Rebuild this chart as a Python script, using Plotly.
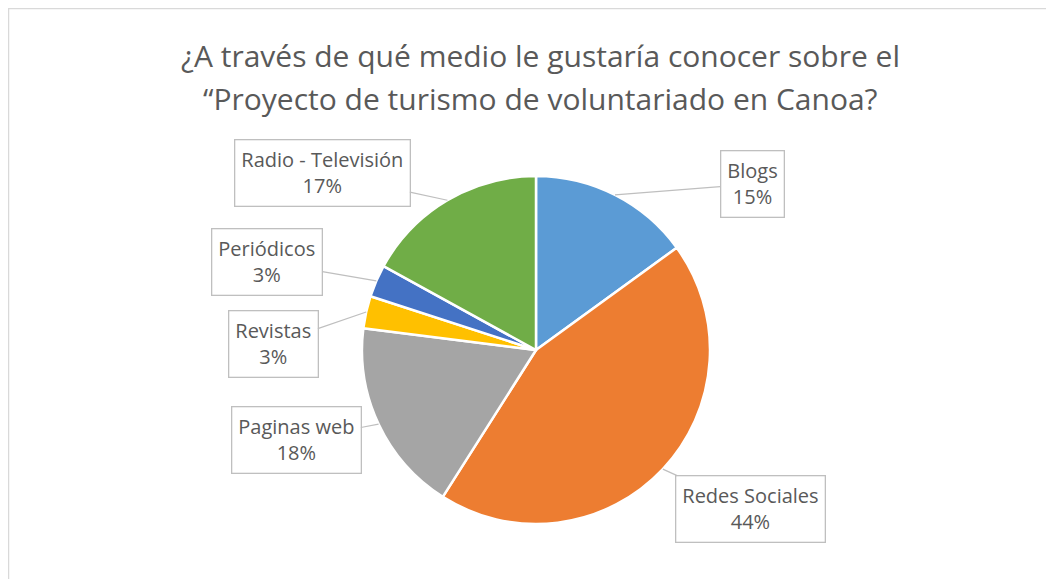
import math
import plotly.graph_objects as go

# ---- data ----
categories = ["Blogs", "Redes Sociales", "Paginas web", "Revistas", "Periódicos", "Radio - Televisión"]
values = [15, 44, 18, 3, 3, 17]
colors = ["#5B9BD5", "#ED7D31", "#A5A5A5", "#FFC000", "#4472C4", "#70AD47"]
title_lines = ["¿A través de qué medio le gustaría conocer sobre el",
               "“Proyecto de turismo de voluntariado en Canoa?"]

# ---- layout settings ----
OFF = 8                             # page body margin
W, H = 1054 - OFF, 579 - OFF
cx, cy, R = 536 - OFF, 350 - OFF, 174  # pie centre / radius in figure pixels
# callout box centres (page pixels)
box_centres = {
    "Blogs": (752, 184),
    "Redes Sociales": (750, 509),
    "Paginas web": (296, 440),
    "Revistas": (273, 344),
    "Periódicos": (267, 262),
    "Radio - Televisión": (322, 173),
}
title_y = [55, 98]                  # page pixels, line centres
FONT = "Open Sans"
TXT = "#595959"

fig = go.Figure(go.Pie(
    labels=categories, values=values, sort=False, direction="clockwise", rotation=0,
    marker=dict(colors=colors, line=dict(color="white", width=2.5)),
    textinfo="none", showlegend=False,
    domain=dict(x=[(cx - R) / W, (cx + R) / W], y=[1 - (cy + R) / H, 1 - (cy - R) / H]),
))

total = sum(values)
cum = 0
annotations = []
for line, ty in zip(title_lines, title_y):
    annotations.append(dict(
        x=(540 - OFF) / W, y=1 - (ty - OFF) / H, xref="paper", yref="paper",
        xanchor="center", yanchor="middle", showarrow=False, text=line,
        font=dict(family=FONT, size=30, color=TXT)))

for cat, v in zip(categories, values):
    mid = (cum + v / 2) / total * 2 * math.pi
    cum += v
    tx = cx + R * math.sin(mid)
    ty = cy - R * math.cos(mid)
    bx, by = box_centres[cat]
    bx, by = bx - OFF, by - OFF
    pct = round(v / total * 100)
    annotations.append(dict(
        x=tx / W, y=1 - ty / H, xref="paper", yref="paper",
        ax=bx - tx, ay=by - ty, axref="pixel", ayref="pixel",
        text=f"{cat}<br>{pct}%", showarrow=True, arrowhead=0, arrowwidth=1.2,
        arrowcolor="#BFBFBF", standoff=0,
        font=dict(family=FONT, size=20, color=TXT),
        bordercolor="#BFBFBF", borderwidth=1.3, borderpad=6, bgcolor="white",
    ))

fig.update_layout(
    width=W, height=H, margin=dict(l=0, r=0, t=0, b=0),
    paper_bgcolor="white", plot_bgcolor="white",
    annotations=annotations,
    shapes=[dict(type="rect", xref="paper", yref="paper",
                 x0=0.5 / W, x1=1.2, y0=-0.2, y1=1 - 0.5 / H,
                 line=dict(color="#D9D9D9", width=1.5), fillcolor="rgba(0,0,0,0)")],
)

fig.write_html("out.html")
